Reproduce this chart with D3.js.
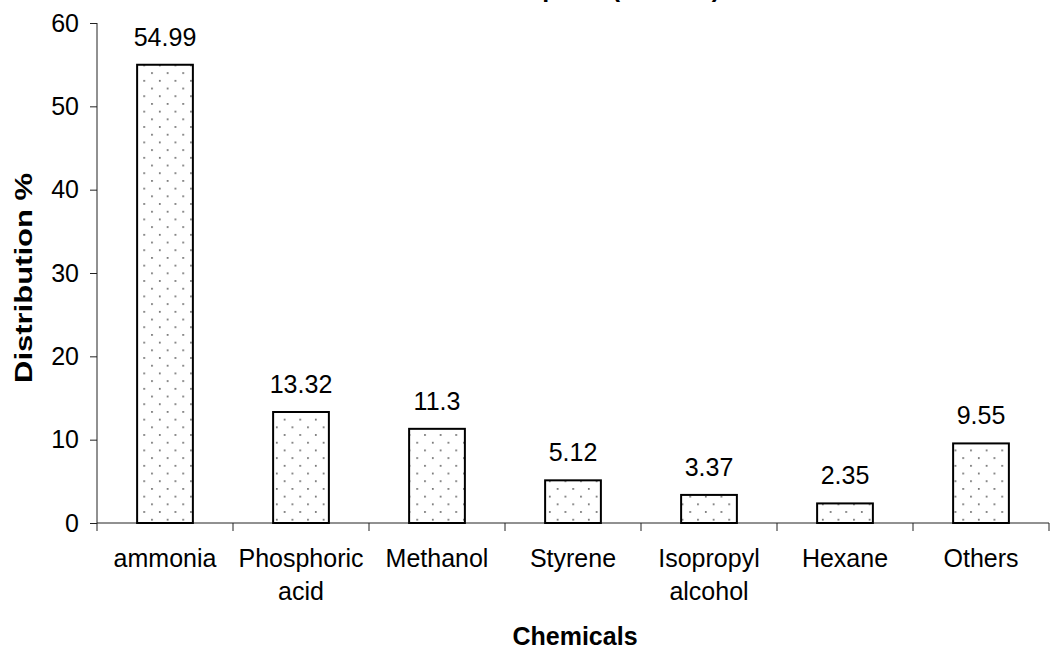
<!DOCTYPE html>
<html>
<head>
<meta charset="utf-8">
<script src="https://cdn.jsdelivr.net/npm/d3@7"></script>
<style>
  body { margin: 0; background: #fff; }
  text { font-family: "Liberation Sans", Arial, sans-serif; fill: #000; }
</style>
</head>
<body>
<svg id="chart" width="1050" height="650"></svg>
<script>
// chemicals and their share
var chemicals = ['ammonia', 'Phosphoric acid', 'Methanol', 'Styrene', 'Isopropyl alcohol', 'Hexane', 'Others'];
var shares = [54.99, 13.32, 11.3, 5.12, 3.37, 2.35, 9.55];
var yTicks = [0, 10, 20, 30, 40, 50, 60];
var title = 'Chemical imports (2004-05)';

var data = chemicals.map(function(c, i) { return {name: c, value: shares[i]}; });

var margin = {top: 23, right: 1, bottom: 127, left: 97};
var width = 1050, height = 650;
var fs = '25px';
var svg = d3.select('#chart');

// dotted fill
var pat = svg.append('defs').append('pattern')
  .attr('id', 'dots')
  .attr('patternUnits', 'userSpaceOnUse')
  .attr('width', 15.6).attr('height', 15.4);
pat.append('rect').attr('width', 15.6).attr('height', 15.4).attr('fill', '#fff');
pat.append('rect').attr('x', 3).attr('y', 3).attr('width', 1.6).attr('height', 1.6).attr('fill', '#555');
pat.append('rect').attr('x', 10.8).attr('y', 10.7).attr('width', 1.6).attr('height', 1.6).attr('fill', '#555');

var x = d3.scaleBand()
  .domain(chemicals)
  .range([margin.left, width - margin.right])
  .paddingInner(0.59).paddingOuter(0.295);

var y = d3.scaleLinear()
  .domain([0, 60])
  .range([height - margin.bottom, margin.top]);

// title (mostly off the top edge, as in the source)
svg.append('text')
  .attr('x', 395).attr('y', -3)
  .style('font-size', fs).style('font-weight', 'bold')
  .text(title);

// y axis
var yAxis = svg.append('g')
  .attr('transform', 'translate(' + margin.left + ',0)')
  .call(d3.axisLeft(y).tickValues(yTicks).tickSize(7).tickPadding(11));
yAxis.select('.domain').attr('d', 'M0,' + y(0) + 'V' + y(60)).attr('stroke', '#222');
yAxis.selectAll('line').attr('stroke', '#222');
yAxis.selectAll('text').style('font-size', fs).style('font-family', '"Liberation Sans", Arial, sans-serif').attr('fill', '#000');

// x axis with boundary ticks
var y0 = y(0);
var bounds = d3.range(chemicals.length + 1).map(function(i) { return margin.left + i * x.step(); });
svg.append('line')
  .attr('x1', margin.left).attr('x2', width - margin.right)
  .attr('y1', y0).attr('y2', y0)
  .attr('stroke', '#222');
svg.selectAll('.xtick').data(bounds).enter().append('line')
  .attr('class', 'xtick')
  .attr('x1', function(d) { return d; }).attr('x2', function(d) { return d; })
  .attr('y1', y0).attr('y2', y0 + 8)
  .attr('stroke', '#222');

// bars
svg.selectAll('.bar').data(data).enter().append('rect')
  .attr('class', 'bar')
  .attr('x', function(d) { return x(d.name); })
  .attr('y', function(d) { return y(d.value); })
  .attr('width', x.bandwidth())
  .attr('height', function(d) { return y0 - y(d.value); })
  .attr('fill', 'url(#dots)')
  .attr('stroke', '#000')
  .attr('stroke-width', 2);

// value labels
svg.selectAll('.val').data(data).enter().append('text')
  .attr('class', 'val')
  .attr('x', function(d) { return x(d.name) + x.bandwidth() / 2; })
  .attr('y', function(d) { return y(d.value) - 19; })
  .attr('text-anchor', 'middle')
  .style('font-size', fs)
  .text(function(d) { return d.value; });

// category labels, wrapped on space for two-word names
svg.selectAll('.cat').data(data).enter().append('text')
  .attr('class', 'cat')
  .attr('text-anchor', 'middle')
  .style('font-size', fs)
  .each(function(d) {
    var t = d3.select(this);
    var cx = x(d.name) + x.bandwidth() / 2;
    d.name.split(' ').forEach(function(w, i) {
      t.append('tspan').attr('x', cx).attr('y', 567 + i * 33).text(w);
    });
  });

// axis titles
svg.append('text')
  .attr('x', 575).attr('y', 645)
  .attr('text-anchor', 'middle')
  .style('font-size', fs).style('font-weight', 'bold')
  .text('Chemicals');

svg.append('text')
  .attr('transform', 'translate(32,278) rotate(-90)')
  .attr('text-anchor', 'middle')
  .attr('textLength', 210)
  .attr('lengthAdjust', 'spacingAndGlyphs')
  .style('font-size', '24px').style('font-weight', 'bold')
  .text('Distribution %');
</script>
</body>
</html>
